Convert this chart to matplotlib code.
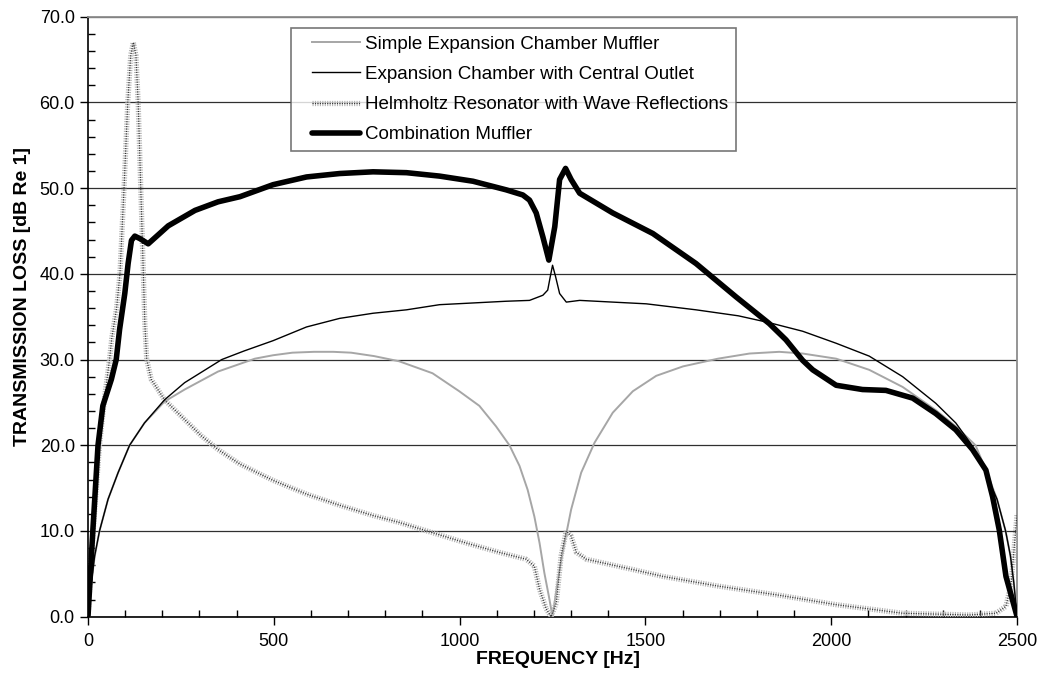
import numpy as np
import matplotlib
matplotlib.use('Agg')
import matplotlib.pyplot as plt
import matplotlib.patheffects as pe
from matplotlib.ticker import MultipleLocator, FormatStrFormatter
from matplotlib.legend_handler import HandlerLine2D

# values (Hz, dB)
f_simple = [0, 9, 18, 31, 54, 81, 112, 152, 206, 260, 350, 449, 498, 550, 608,
            660, 708, 770, 837, 927, 999, 1053, 1098, 1134, 1161, 1183, 1201,
            1215, 1228, 1240, 1250, 1258, 1269, 1282, 1300, 1327, 1363, 1412,
            1466, 1529, 1601, 1695, 1780, 1860, 1923, 2013, 2102, 2192, 2281,
            2335, 2388, 2419, 2446, 2469, 2482, 2491, 2500]
tl_simple = [0, 4, 7, 10, 13.7, 16.8, 20, 22.6, 25.1, 26.5, 28.6, 30.1, 30.5,
             30.8, 30.9, 30.9, 30.8, 30.4, 29.8, 28.4, 26.3, 24.6, 22.2, 20.0,
             17.6, 14.8, 11.7, 8.6, 5.1, 2.4, 0, 2.4, 5.5, 8.6, 12.5, 16.8, 20.3,
             23.8, 26.3, 28.1, 29.2, 30.1, 30.7, 30.9, 30.7, 30.1, 28.8, 26.8,
             24.1, 22.2, 20.0, 16.8, 13.7, 10.0, 7.1, 4.0, 0]

f_central = [0, 9, 18, 31, 54, 81, 112, 152, 206, 260, 360, 420, 498, 588, 677,
             767, 857, 946, 1036, 1125, 1188, 1224, 1237, 1244, 1250, 1258, 1269,
             1287, 1323, 1412, 1502, 1636, 1750, 1833, 1923, 2013, 2102, 2192,
             2281, 2335, 2380, 2416, 2446, 2469, 2482, 2491, 2500]
tl_central = [0, 4.0, 7.1, 10, 13.7, 16.8, 20, 22.6, 25.3, 27.3, 30.0, 31.0,
              32.2, 33.8, 34.8, 35.4, 35.8, 36.4, 36.6, 36.8, 36.9, 37.5, 38.1,
              39.7, 41.0, 39.7, 37.7, 36.7, 36.9, 36.7, 36.5, 35.8, 35.1, 34.3,
              33.3, 31.9, 30.4, 28.0, 24.9, 22.6, 19.9, 16.7, 13.7, 10.0, 7.1,
              4.0, 0]

f_helm = [0, 14, 31, 45, 58, 64, 77, 86, 97, 107, 115, 122, 129, 135, 142, 149,
          153, 158, 170, 206, 260, 305, 350, 409, 498, 588, 677, 767, 837, 927,
          1017, 1107, 1179, 1201, 1215, 1233, 1246, 1260, 1273, 1287, 1300, 1314,
          1341, 1466, 1547, 1691, 1860, 2013, 2192, 2371, 2443, 2470, 2484, 2492,
          2500]
tl_helm = [0, 10, 20, 25.7, 30, 32.5, 36, 40, 50, 60, 65.5, 67, 65.5, 60, 50,
           40, 34.2, 30, 27.7, 25.3, 23.0, 21.1, 19.5, 17.8, 15.9, 14.3, 13.0,
           11.8, 11.0, 9.8, 8.6, 7.5, 6.7, 5.9, 3.2, 0.9, 0, 1.6, 7.1, 10.0, 9.4,
           7.5, 6.7, 5.5, 4.7, 3.6, 2.5, 1.4, 0.4, 0.2, 0.4, 1.2, 3.9, 8.0, 12.0]

f_comb = [0, 13, 27, 40, 63, 76, 85, 99, 108, 117, 126, 140, 162, 216, 288, 350,
          409, 498, 588, 677, 767, 857, 946, 1036, 1125, 1170, 1188, 1206, 1224,
          1240, 1256, 1269, 1285, 1300, 1323, 1412, 1520, 1636, 1744, 1833, 1878,
          1923, 1950, 2013, 2084, 2147, 2219, 2281, 2335, 2380, 2416, 2434, 2452,
          2470, 2500]
tl_comb = [0, 10, 20, 24.6, 27.7, 30, 33.5, 37.7, 41.2, 43.9, 44.4, 44.1, 43.5,
           45.6, 47.4, 48.4, 49.0, 50.4, 51.3, 51.7, 51.9, 51.8, 51.4, 50.8, 49.8,
           49.2, 48.6, 47.1, 44.3, 41.6, 45.5, 51.0, 52.3, 51.0, 49.4, 47.1, 44.7,
           41.2, 37.3, 34.2, 32.3, 29.9, 28.8, 27.0, 26.5, 26.4, 25.5, 23.7, 21.8,
           19.5, 17.1, 14.0, 10.1, 4.7, 0]

labels = ['Simple Expansion Chamber Muffler',
          'Expansion Chamber with Central Outlet',
          'Helmholtz Resonator with Wave Reflections',
          'Combination Muffler']

plt.rcParams['font.family'] = ['Liberation Sans', 'DejaVu Sans']

fig = plt.figure(figsize=(10.4, 6.75), dpi=100)
ax = fig.add_axes([0.0846, 0.0864, 0.8934, 0.8889])

ax.plot(f_simple, tl_simple, color='#a6a6a6', lw=1.4, label=labels[0], zorder=3)
ax.plot(f_central, tl_central, color='black', lw=1.0, label=labels[1], zorder=4)
ax.plot(f_helm, tl_helm, color='#333333', lw=0.8, ls=(0, (1, 1.2)),
        label=labels[2], zorder=3,
        path_effects=[pe.Stroke(linewidth=3.8, foreground='#b4b4b4'), pe.Normal()])
ax.plot(f_comb, tl_comb, color='black', lw=4, label=labels[3], zorder=5,
        solid_capstyle='round', solid_joinstyle='round')

ax.set_xlim(0, 2500)
ax.set_ylim(0, 70)
ax.xaxis.set_major_locator(MultipleLocator(500))
ax.xaxis.set_minor_locator(MultipleLocator(100))
ax.yaxis.set_major_locator(MultipleLocator(10))
ax.yaxis.set_minor_locator(MultipleLocator(2))
ax.yaxis.set_major_formatter(FormatStrFormatter('%.1f'))
ax.tick_params(which='major', direction='out', length=6, width=1, labelsize=13)
ax.tick_params(which='minor', direction='in', length=5, width=1)
ax.tick_params(axis='x', pad=6)

ax.grid(axis='y', which='major', color='#303030', lw=0.9)
ax.set_axisbelow(True)
for s in ['top', 'right']:
    ax.spines[s].set_color('#8c8c8c')
    ax.spines[s].set_linewidth(1.3)
for s in ['left', 'bottom']:
    ax.spines[s].set_linewidth(1.2)

lab_font = dict(weight='bold', size=14)
ax.set_xlabel('FREQUENCY [Hz]', fontdict=lab_font)
ax.set_ylabel('TRANSMISSION LOSS [dB Re 1]', fontdict=lab_font)
ax.xaxis.set_label_coords(0.506, -0.058)
ax.yaxis.set_label_coords(-0.061, 0.534)

leg = ax.legend(loc='upper left', bbox_to_anchor=(0.218, 0.981), fontsize=13.5,
                frameon=True, fancybox=False, handlelength=3.3,
                handletextpad=0.27, labelspacing=0.7, borderpad=0.4,
                borderaxespad=0,
                handler_map={matplotlib.lines.Line2D: HandlerLine2D(xpad=0.75)})
leg.get_frame().set_edgecolor('#555555')
leg.get_frame().set_linewidth(1.2)

fig.savefig('out.png', dpi=100)
